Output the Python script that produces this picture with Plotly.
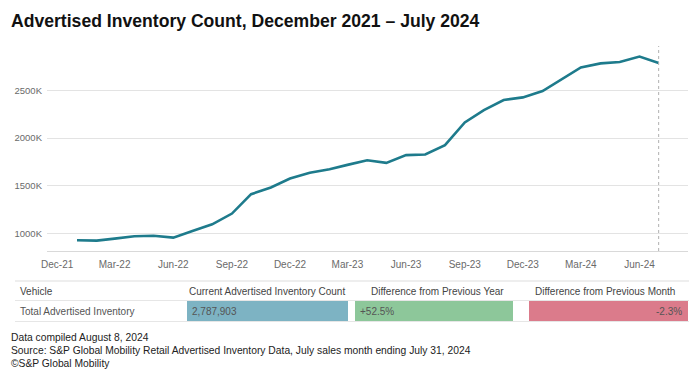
import plotly.graph_objects as go

# ---- data ----
months = ["2022-01-01", "2022-02-01", "2022-03-01", "2022-04-01", "2022-05-01", "2022-06-01",
          "2022-07-01", "2022-08-01", "2022-09-01", "2022-10-01", "2022-11-01", "2022-12-01",
          "2023-01-01", "2023-02-01", "2023-03-01", "2023-04-01", "2023-05-01", "2023-06-01",
          "2023-07-01", "2023-08-01", "2023-09-01", "2023-10-01", "2023-11-01", "2023-12-01",
          "2024-01-01", "2024-02-01", "2024-03-01", "2024-04-01", "2024-05-01", "2024-06-01",
          "2024-07-01"]
inventory_k = [930, 927, 948, 972, 977, 958,
               1028, 1098, 1210, 1413, 1483, 1577,
               1637, 1675, 1720, 1769, 1741, 1822,
               1829, 1927, 2164, 2294, 2399, 2427,
               2493, 2622, 2741, 2783, 2797, 2854,
               2788]
y_ticks = [1000, 1500, 2000, 2500]
y_tick_labels = ["1000K", "1500K", "2000K", "2500K"]

table_headers = ["Vehicle", "Current Advertised Inventory Count",
                 "Difference from Previous Year", "Difference from Previous Month"]
table_row = ["Total Advertised Inventory", "2,787,903", "+52.5%", "-2.3%"]

title = "Advertised Inventory Count, December 2021 \u2013 July 2024"
notes = ["Data compiled August 8, 2024",
         "Source: S&P Global Mobility Retail Advertised Inventory Data, July sales month ending July 31, 2024",
         "\u00a9S&P Global Mobility"]

# ---- figure geometry (pixels) ----
W, H = 696, 382
ML, MR, MT, MB = 47, 8, 46, 131
PW, PH = W - ML - MR, H - MT - MB

def px(x):
    return (x - ML) / PW

def py(y):
    return (H - MB - y) / PH

FONT = "Liberation Sans, Arial, sans-serif"

fig = go.Figure()
fig.add_trace(go.Scatter(x=months, y=inventory_k, mode="lines",
                         line=dict(color="#1e7b8c", width=2.6),
                         hoverinfo="skip", showlegend=False))

fig.update_layout(
    width=W, height=H,
    margin=dict(l=ML, r=MR, t=MT, b=MB, autoexpand=False),
    paper_bgcolor="white", plot_bgcolor="white",
    font=dict(family=FONT, color="#666666", size=10),
    showlegend=False,
    xaxis=dict(type="date", range=["2021-11-15", "2024-08-16"],
               tick0="2021-12-01", dtick="M3", tickformat="%b-%y",
               showgrid=False, showline=True, linecolor="#d9d9d9", linewidth=1,
               ticks="", ticklabelstandoff=4, tickfont=dict(size=10, color="#6a6a6a"),
               zeroline=False, automargin=False),
    yaxis=dict(range=[818, 2965], tickmode="array", tickvals=y_ticks, ticktext=y_tick_labels,
               showgrid=True, gridcolor="#e3e3e3", gridwidth=1,
               zeroline=False, showline=False, ticks="", automargin=False,
               tickfont=dict(size=9.5, color="#6a6a6a"), ticklabelstandoff=4),
)

# dotted marker at latest month
fig.add_shape(type="line", xref="x", yref="paper", x0=months[-1], x1=months[-1],
              y0=0, y1=1, line=dict(color="#b0b0b0", width=1, dash="dot"))

# title
fig.add_annotation(text="<b>" + title + "</b>", xref="paper", yref="paper",
                   x=px(9), y=py(21), xanchor="left", yanchor="middle",
                   showarrow=False, font=dict(family=FONT, size=17.6, color="#111111"))

# ---- summary table ----
fig.add_shape(type="line", xref="paper", yref="paper", x0=px(15), x1=px(689),
              y0=py(281), y1=py(281), line=dict(color="#dddddd", width=1))
fig.add_shape(type="line", xref="paper", yref="paper", x0=px(15), x1=px(689),
              y0=py(300.5), y1=py(300.5), line=dict(color="#e6e6e6", width=1))
fig.add_shape(type="line", xref="paper", yref="paper", x0=px(15), x1=px(689),
              y0=py(321.5), y1=py(321.5), line=dict(color="#e6e6e6", width=1))

cells = [(187, 348, "#7db3c3"), (355, 513, "#8dc79a"), (529, 688, "#db7b8b")]
for (x0, x1, c) in cells:
    fig.add_shape(type="rect", xref="paper", yref="paper", x0=px(x0), x1=px(x1),
                  y0=py(321), y1=py(301), fillcolor=c, line=dict(width=0), layer="below")

hdr_font = dict(family=FONT, size=10, color="#444444")
hdr_pos = [(18, "left"), (187, "left"), (437, "center"), (605, "center")]
for (x, anc), t in zip(hdr_pos, table_headers):
    fig.add_annotation(text=t, xref="paper", yref="paper", x=px(x), y=py(291),
                       xanchor=anc, yanchor="middle", showarrow=False, font=hdr_font)

row_font = dict(family=FONT, size=10, color="#555555")
row_pos = [(18, "left"), (190, "left"), (358, "left"), (684, "right")]
for (x, anc), t in zip(row_pos, table_row):
    fig.add_annotation(text=t, xref="paper", yref="paper", x=px(x), y=py(311),
                       xanchor=anc, yanchor="middle", showarrow=False, font=row_font)

# ---- footnotes ----
for i, t in enumerate(notes):
    fig.add_annotation(text=t, xref="paper", yref="paper", x=px(9), y=py(337 + 13 * i),
                       xanchor="left", yanchor="middle", showarrow=False,
                       font=dict(family=FONT, size=10.3, color="#222222"))

fig.write_html("out.html", config={"displayModeBar": False},
               post_script="document.body.style.margin='0';document.body.style.overflow='hidden';")
